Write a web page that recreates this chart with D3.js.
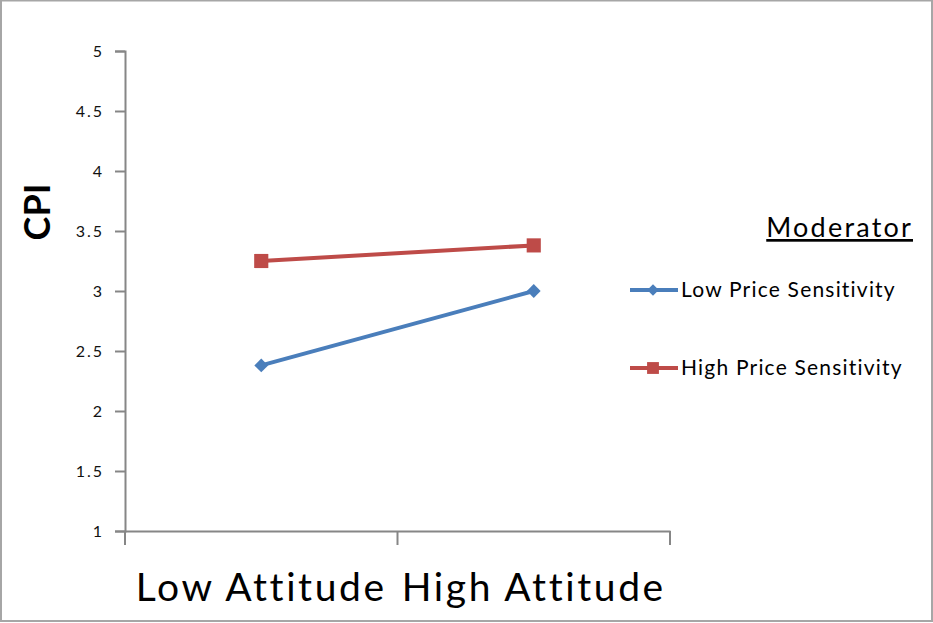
<!DOCTYPE html>
<html><head><meta charset="utf-8">
<script src="https://cdn.jsdelivr.net/npm/d3@7"></script>
<style>body{margin:0;background:#fff}svg{display:block}</style>
</head><body>
<svg id="c" width="933" height="623"></svg>
<script>
const categories = ["Low Attitude", "High Attitude"];
const seriesNames = ["Low Price Sensitivity", "High Price Sensitivity"];
const lowSensitivity = [2.38, 3.0];
const highSensitivity = [3.25, 3.38];
const yTicks = [1, 1.5, 2, 2.5, 3, 3.5, 4, 4.5, 5];
const yTitle = "CPI";
const legendTitle = "Moderator";

(function(){
const colors = ["#4a7ebb", "#be4b48"];
const font = "Lato, 'Open Sans', sans-serif";
const svg = d3.select("#c");

svg.append("rect").attr("x",1).attr("y",0.5).attr("width",931).attr("height",620.5)
  .attr("fill","#fff").attr("stroke","#a6a6a6").attr("stroke-width",2);

const pLeft = 125, pRight = 670, pTop = 51, pBottom = 531;
const x = d3.scaleBand().domain(categories).range([pLeft, pRight]);
const y = d3.scaleLinear().domain([1, 5]).range([pBottom, pTop]);
const axisColor = "#868686";

// y axis
const ya = svg.append("g").attr("transform",`translate(${pLeft},0)`)
  .call(d3.axisLeft(y).tickValues(yTicks).tickSize(10).tickPadding(11).tickFormat(d3.format("")));
ya.select(".domain").attr("stroke",axisColor).attr("stroke-width",2);
ya.selectAll(".tick line").attr("stroke",axisColor).attr("stroke-width",2);
ya.selectAll(".tick text").attr("font-family",font).attr("font-size",16)
  .attr("letter-spacing",2).attr("fill","#111");

// x axis
const xa = svg.append("g").attr("transform",`translate(0,${pBottom})`)
  .call(d3.axisBottom(x).tickSize(0).tickPadding(0));
xa.select(".domain").attr("stroke",axisColor).attr("stroke-width",2);
xa.selectAll(".tick text").attr("font-family",font).attr("font-size",39)
  .attr("letter-spacing",2.6).attr("fill","#000").attr("dy",null).attr("y",70);
const bounds = [pLeft].concat(categories.map(c => x(c) + x.bandwidth()));
xa.selectAll("line.bt").data(bounds).enter().append("line").attr("class","bt")
  .attr("x1",d=>d).attr("x2",d=>d).attr("y1",0).attr("y2",14)
  .attr("stroke",axisColor).attr("stroke-width",2);

// y title
svg.append("text").attr("transform",`translate(50,212) rotate(-90)`)
  .attr("text-anchor","middle").attr("font-family",font).attr("font-weight","bold")
  .attr("font-size",36).text(yTitle);

// series
const data = [lowSensitivity, highSensitivity];
const cx = c => x(c) + x.bandwidth()/2;
const line = d3.line().x((d,i)=>cx(categories[i])).y(d=>y(d));
const marker = (si, big) => si === 0
  ? { d: d3.symbol().type(d3.symbolSquare).size(big ? 95 : 66)(), rot: 45 }
  : { d: d3.symbol().type(d3.symbolSquare).size(big ? 200 : 140)(), rot: 0 };
data.forEach((vals, si) => {
  svg.append("path").datum(vals).attr("d",line).attr("fill","none")
    .attr("stroke",colors[si]).attr("stroke-width",4);
  const m = marker(si, true);
  svg.selectAll(null).data(vals).enter().append("path")
    .attr("transform",(d,i)=>`translate(${cx(categories[i])},${y(d)}) rotate(${m.rot})`)
    .attr("d", m.d).attr("fill",colors[si]);
});

// legend
svg.append("text").attr("x",913).attr("y",237).attr("text-anchor","end")
  .attr("font-family",font).attr("font-size",27).attr("letter-spacing",2.2).attr("fill","#000")
  .attr("text-decoration","underline").text(legendTitle);
const legY = [290, 368];
seriesNames.forEach((n, si) => {
  const g = svg.append("g");
  g.append("line").attr("x1",630).attr("x2",678).attr("y1",legY[si]).attr("y2",legY[si])
    .attr("stroke",colors[si]).attr("stroke-width",4);
  const m = marker(si, false);
  g.append("path").attr("transform",`translate(653,${legY[si]}) rotate(${m.rot})`)
    .attr("d", m.d).attr("fill",colors[si]);
  g.append("text").attr("x",681).attr("y",legY[si]+6.5)
    .attr("font-family",font).attr("font-size",21).attr("letter-spacing",1.2).attr("fill","#000").text(n);
});
})();
</script>
</body></html>
